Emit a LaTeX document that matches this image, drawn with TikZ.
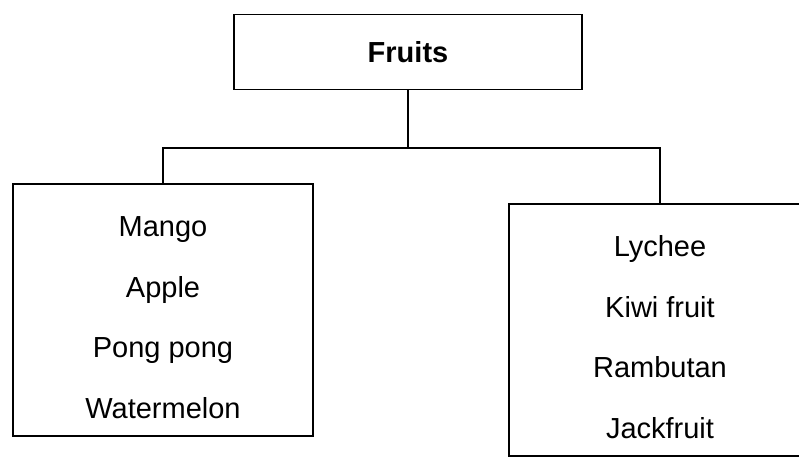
\documentclass[tikz,border=0pt]{standalone}
\usepackage{fontspec}
\setmainfont{Liberation Sans}
\usepackage{tikz}

\begin{document}
\begin{tikzpicture}[
    box/.style = {draw=black, line width=1pt, inner sep=0pt, align=center,
                  font=\fontsize{16.5}{34.5}\selectfont},
    link/.style = {draw=black, line width=1pt}
  ]
    \useasboundingbox (0,0) rectangle (15.98,-9.26);
    \node[box, minimum width=6.96cm, minimum height=1.5cm, font=\fontsize{16.5}{20}\selectfont\bfseries] (fruits) at (8.16,-1.04) {Fruits};
    \node[box, minimum width=6cm, minimum height=5.04cm] (left) at (3.26,-6.2) {\rule{0pt}{7mm}Mango\\Apple\\Pong pong\\Watermelon};
    % right box runs off the page, so no right side
    \node[box, draw=none, minimum width=6cm, minimum height=5cm] (right) at (13.2,-6.6) {\rule{0pt}{7mm}Lychee\\Kiwi fruit\\Rambutan\\Jackfruit};
    \path [link] (right.north east) -- (right.north west) -- (right.south west) -- (right.south east);
    \coordinate (split) at (8.16,-2.96);
    \path [link] (fruits.south) -- (split);
    \path [link] (split) -| (left.north);
    \path [link] (split) -| (right.north);
  \end{tikzpicture}
\end{document}
